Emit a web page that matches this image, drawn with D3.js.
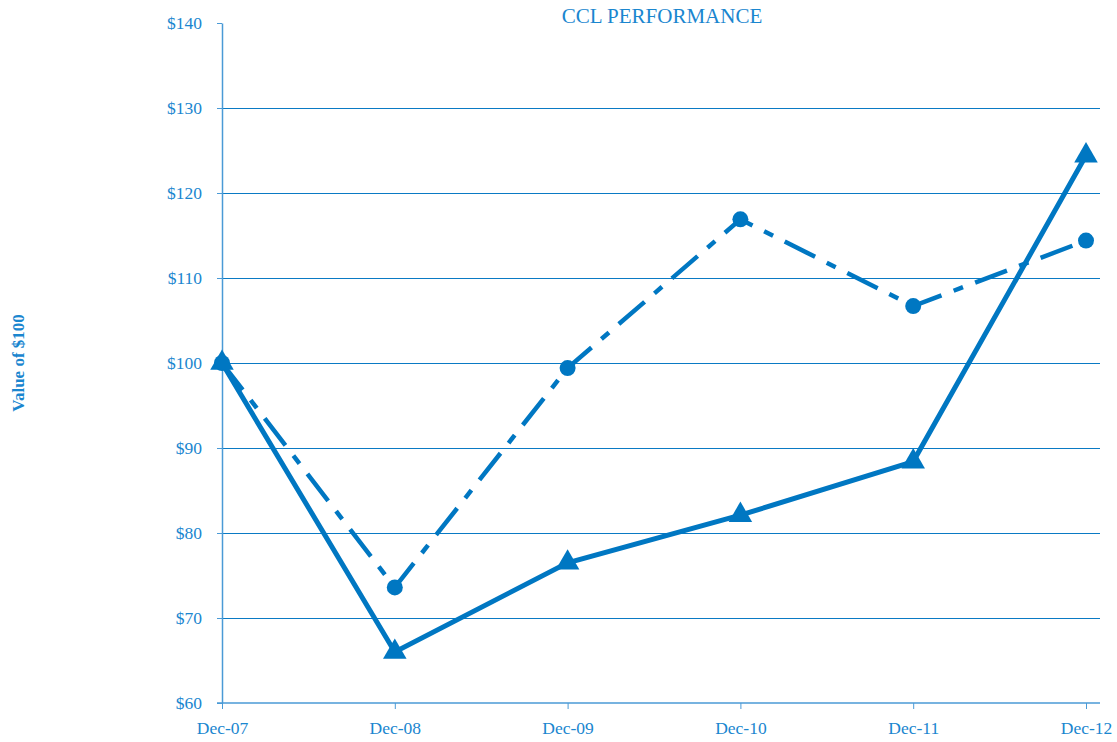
<!DOCTYPE html>
<meta charset="utf-8">
<style>
body { margin: 0; background: #fff; }
text { font-family: "Liberation Serif", "Times New Roman", serif; fill: #1a86cf; }
.axis path, .axis line { stroke: #4a9ad6; }
.grid line { stroke: #0a7ac4; stroke-width: 1; shape-rendering: crispEdges; }
</style>
<body>
<script src="https://d3js.org/d3.v7.min.js"></script>
<script>

const periods = ["Dec-07", "Dec-08", "Dec-09", "Dec-10", "Dec-11", "Dec-12"];
const cclValues = [100, 66.0, 76.5, 82.1, 88.4, 124.4];
const indexValues = [100, 73.6, 99.4, 116.9, 106.7, 114.4];
const yTicks = [60, 70, 80, 90, 100, 110, 120, 130, 140];

const width = 1117, height = 742;
const color = "#0077c2";

let svg = d3.select("body").append("svg")
    .attr("width", width)
    .attr("height", height);

let x = d3.scalePoint()
    .domain(periods)
    .range([222, 1086]);

let y = d3.scaleLinear()
    .domain([60, 140])
    .range([703, 23]);

// gridlines (none at the top value)
svg.append("g")
    .attr("class", "grid")
    .selectAll("line")
    .data(yTicks.filter(d => d > 60 && d < 140))
    .enter().append("line")
    .attr("x1", 217)
    .attr("x2", 1100)
    .attr("y1", d => y(d) + 0.5)
    .attr("y2", d => y(d) + 0.5);

// y axis
let yAxis = svg.append("g")
    .attr("class", "axis")
    .attr("transform", "translate(222,0)")
    .call(d3.axisLeft(y).tickValues(yTicks).tickSize(5).tickSizeOuter(0).tickPadding(15)
      .tickFormat(d => "$" + d));
yAxis.select(".domain").attr("stroke-width", 1.5);
yAxis.selectAll("text").style("font-size", "17.5px").attr("fill", "#1a86cf");

// x axis
let xAxis = svg.append("g")
    .attr("class", "axis")
    .attr("transform", "translate(0,703)")
    .call(d3.axisBottom(x).tickSize(6).tickSizeOuter(0).tickPadding(13));
xAxis.select(".domain").attr("d", "M217,0H1100").attr("stroke-width", 1.5);
xAxis.selectAll("text").style("font-size", "17.5px").attr("fill", "#1a86cf");

// title
svg.append("text")
    .attr("x", 662)
    .attr("y", 23)
    .attr("text-anchor", "middle")
    .style("font-size", "21px")
    .text("CCL PERFORMANCE");

// y label
svg.append("text")
    .attr("transform", "translate(24,363)rotate(-90)")
    .attr("text-anchor", "middle")
    .style("font-size", "17px")
    .style("font-weight", "bold")
    .text("Value of $100");

let line = d3.line()
    .x((d, i) => x(periods[i]))
    .y(d => y(d));

// index series, dashed with circles
svg.append("path")
    .datum(indexValues)
    .attr("d", line)
    .attr("fill", "none")
    .attr("stroke", color)
    .attr("stroke-width", 4.5)
    .attr("stroke-dasharray", "34 13 10 13");

svg.append("g")
    .selectAll("circle")
    .data(indexValues)
    .enter().append("circle")
    .attr("cx", (d, i) => x(periods[i]))
    .attr("cy", d => y(d))
    .attr("r", 8)
    .attr("fill", color);

// CCL series, solid with triangles
svg.append("path")
    .datum(cclValues)
    .attr("d", line)
    .attr("fill", "none")
    .attr("stroke", color)
    .attr("stroke-width", 5);

let tri = d3.symbol().type(d3.symbolTriangle).size(240);
svg.append("g")
    .selectAll("path")
    .data(cclValues)
    .enter().append("path")
    .attr("d", tri)
    .attr("transform", (d, i) => "translate(" + x(periods[i]) + "," + y(d) + ")")
    .attr("fill", color);

</script>
